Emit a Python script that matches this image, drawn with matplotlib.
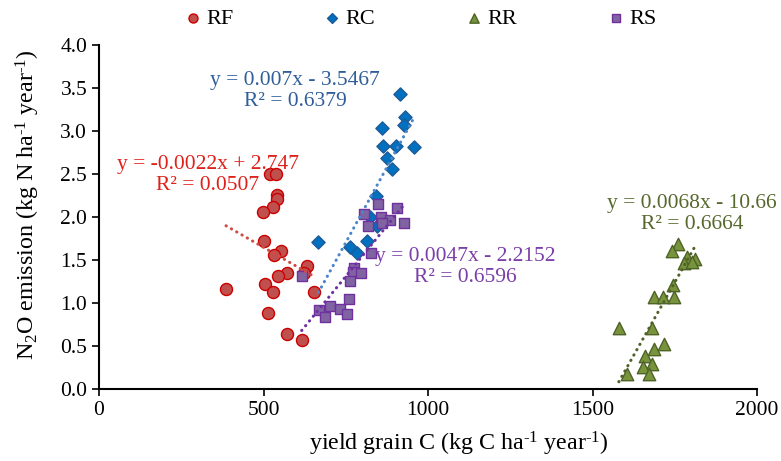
import numpy as np
from matplotlib import pyplot as plt

plt.rcParams['font.family'] = ['Liberation Serif', 'DejaVu Serif']
plt.rcParams['mathtext.fontset'] = 'custom'
plt.rcParams['mathtext.rm'] = 'Liberation Serif'
plt.rcParams['mathtext.it'] = 'Liberation Serif:italic'

# yield grain C (kg C/ha/yr) vs N2O emission (kg N/ha/yr)
rf_x = [520, 537, 540, 542, 530, 499, 502, 553, 532, 632, 623, 570, 545, 386, 505, 530, 654, 513, 570, 616]
rf_y = [2.50, 2.50, 2.25, 2.21, 2.12, 2.06, 1.72, 1.61, 1.56, 1.43, 1.35, 1.35, 1.31, 1.16, 1.22, 1.13, 1.13, 0.88, 0.64, 0.57]

rc_x = [916, 931, 928, 860, 862, 902, 957, 874, 889, 842, 824, 844, 667, 814, 763, 785]
rc_y = [3.43, 3.16, 3.07, 3.04, 2.83, 2.83, 2.81, 2.69, 2.56, 2.24, 2.00, 1.90, 1.71, 1.72, 1.65, 1.58]

rr_x = [1761, 1741, 1786, 1812, 1778, 1801, 1744, 1687, 1715, 1749, 1580, 1680, 1718, 1687, 1660, 1680, 1652, 1672, 1606]
rr_y = [1.69, 1.60, 1.53, 1.51, 1.47, 1.48, 1.21, 1.07, 1.07, 1.07, 0.71, 0.71, 0.52, 0.47, 0.38, 0.29, 0.26, 0.18, 0.18]

rs_x = [847, 907, 806, 856, 884, 819, 859, 928, 826, 776, 771, 795, 763, 760, 702, 669, 733, 753, 687, 616]
rs_y = [2.15, 2.10, 2.04, 2.00, 1.96, 1.90, 1.93, 1.93, 1.58, 1.41, 1.36, 1.35, 1.26, 1.05, 0.97, 0.92, 0.93, 0.87, 0.84, 1.31]

# linear trend coefficients (slope, intercept) and R2 as printed
fits = {
    'RF': (-0.0022, 2.747, 0.0507),
    'RC': (0.007, -3.5467, 0.6379),
    'RR': (0.0068, -10.66, 0.6664),
    'RS': (0.0047, -2.2152, 0.6596),
}
eq_text = {
    'RF': 'y = -0.0022x + 2.747\nR² = 0.0507',
    'RC': 'y = 0.007x - 3.5467\nR² = 0.6379',
    'RR': 'y = 0.0068x - 10.66\nR² = 0.6664',
    'RS': 'y = 0.0047x - 2.2152\nR² = 0.6596',
}

series = [
    ('RF', rf_x, rf_y, 'o', '#C0504D', '#CC0000', 75, '#D04A46', '#E0201A', (331, 2.49)),
    ('RC', rc_x, rc_y, 'D', '#0070C0', '#1F5A96', 45, '#4A86C8', '#2F5E9A', (596, 3.46)),
    ('RR', rr_x, rr_y, '^', '#77933C', '#4F6228', 80, '#4F6228', '#56682C', (1802, 2.04)),
    ('RS', rs_x, rs_y, 's', '#8064A2', '#7030A0', 58, '#7030A0', '#7A3FA8', (1112, 1.42)),
]

fig = plt.figure(figsize=(7.81, 4.61), dpi=100)
ax = fig.add_axes([0.1268, 0.1562, 0.8425, 0.7462])

handles = []
for name, xs, ys, mk, fc, ec, s, lc, tc, tpos in series:
    h = ax.scatter(xs, ys, marker=mk, s=s, facecolor=fc, edgecolor=ec, linewidth=1.0, zorder=3, label=name)
    handles.append(h)

for name, xs, ys, mk, fc, ec, s, lc, tc, tpos in series:
    a, b, r2 = fits[name]
    xl = np.linspace(min(xs), max(xs), 50)
    ax.plot(xl, a * xl + b, linestyle=(0, (0.1, 1.9)), color=lc, linewidth=2.2,
            dash_capstyle='round', zorder=4)
    ax.text(tpos[0], tpos[1], eq_text[name], color=tc, fontsize=15.5, ha='center', va='center',
            linespacing=1.15, zorder=5)

ax.set_xlim(0, 2000)
ax.set_ylim(0, 4.0)
ax.set_xticks([0, 500, 1000, 1500, 2000])
ax.set_yticks(np.arange(0, 4.01, 0.5))
ax.yaxis.set_major_formatter(plt.FormatStrFormatter('%.1f'))
ax.tick_params(labelsize=15.5, width=1.2, length=5, color='black')
for sp in ['top', 'right']:
    ax.spines[sp].set_visible(False)
for sp in ['left', 'bottom']:
    ax.spines[sp].set_linewidth(1.5)

ax.set_xlabel('yield grain C (kg C ha$^{\\text{-1}}$ year$^{\\text{-1}}$)', fontsize=17.3)
ax.set_ylabel('N$_\\mathregular{2}$O emission (kg N ha$^{\\text{-1}}$ year$^{\\text{-1}}$)', fontsize=17.3)
ax.xaxis.set_label_coords(0.547, -0.12)
ax.yaxis.set_label_coords(-0.087, 0.535)

fig.legend(handles=handles, loc='center', bbox_to_anchor=(0.537, 0.96), ncol=4, frameon=False,
           fontsize=16, markerscale=0.75, handletextpad=0.1, columnspacing=3.95, handlelength=1.0)

fig.savefig('out.png', dpi=100)
